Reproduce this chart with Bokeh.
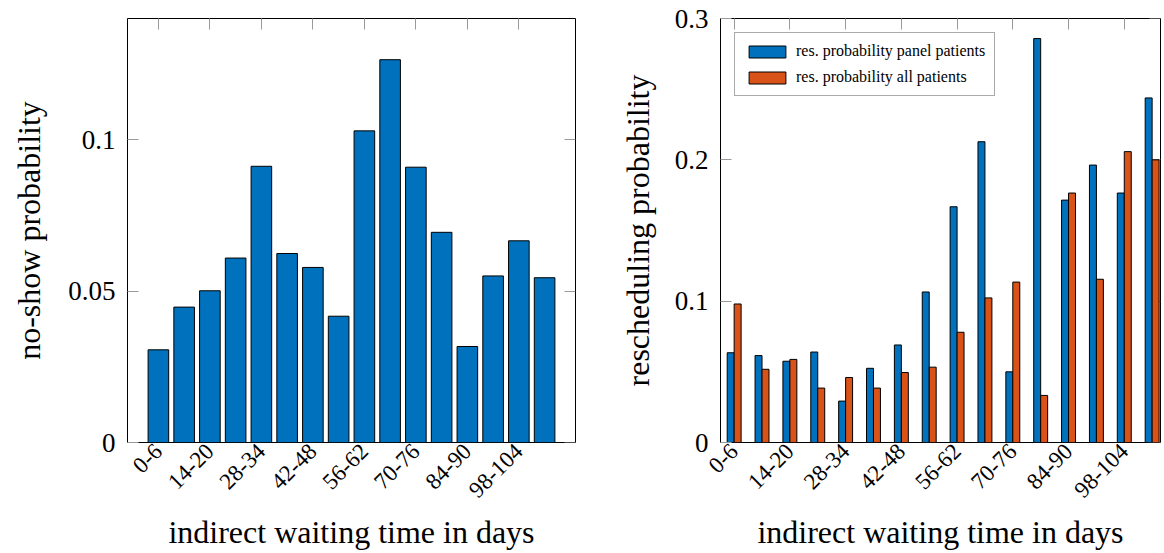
import math
from bokeh.plotting import figure
from bokeh.layouts import row
from bokeh.models import (Range1d, FixedTicker, LinearAxis, CustomJSTickFormatter,
                          ColumnDataSource, CustomLabelingPolicy)
from bokeh.transform import dodge
from bokeh.embed import file_html
from bokeh.resources import INLINE

# ---------------- data ----------------
categories = ["0-6", "7-13", "14-20", "21-27", "28-34", "35-41", "42-48", "49-55",
              "56-62", "63-69", "70-76", "77-83", "84-90", "91-97", "98-104", "105-111"]
tick_labels = ["0-6", "14-20", "28-34", "42-48", "56-62", "70-76", "84-90", "98-104"]
no_show = [0.0306, 0.0447, 0.0501, 0.0609, 0.0912, 0.0624, 0.0578, 0.0417,
           0.1029, 0.1264, 0.0909, 0.0694, 0.0317, 0.0550, 0.0666, 0.0544]
res_panel = [0.0635, 0.0615, 0.0575, 0.0640, 0.0293, 0.0525, 0.0690, 0.1065,
             0.1668, 0.2128, 0.0500, 0.2858, 0.1715, 0.1963, 0.1765, 0.2438]
res_all = [0.0980, 0.0518, 0.0588, 0.0385, 0.0460, 0.0385, 0.0495, 0.0533,
           0.0780, 0.1023, 0.1135, 0.0333, 0.1765, 0.1155, 0.2058, 0.2000]
left_yticks = [0, 0.05, 0.1]
right_yticks = [0, 0.1, 0.2, 0.3]
series_names = ["res. probability panel patients", "res. probability all patients"]

BLUE = "#0072BD"
ORANGE = "#D95319"
FONT = "Liberation Serif"
TICK_COLOR = "#9a9a9a"

xpos = list(range(len(categories)))
xt = [categories.index(t) for t in tick_labels]
fmt_js = "return tick.toString();"
hide_all_js = "const n = indices.size; for (let i = 0; i < n; i++) { indices.unset(i) } return indices;"


def style_common(p):
    p.xgrid.visible = False
    p.ygrid.visible = False
    p.outline_line_color = "black"
    p.outline_line_width = 1
    p.background_fill_color = "white"
    p.border_fill_color = "white"


def style_axis(ax, show_labels=True, tick_in=11):
    ax.axis_line_color = None
    ax.major_tick_in = tick_in
    ax.major_tick_out = 0
    ax.major_tick_line_color = TICK_COLOR
    ax.major_tick_line_width = 1
    ax.minor_tick_line_color = None
    ax.major_label_text_font = FONT
    ax.major_label_text_color = "black"
    ax.axis_label_text_font = FONT
    ax.axis_label_text_font_style = "normal"
    ax.axis_label_text_color = "black"
    ax.axis_label_text_font_size = "32px"
    if not show_labels:
        ax.major_label_text_font_size = "1px"
        ax.major_label_standoff = 0
        ax.major_label_policy = CustomLabelingPolicy(code=hide_all_js)


def build(p, yticks, xticks):
    style_common(p)
    xa = p.xaxis[0]
    xa.ticker = FixedTicker(ticks=xticks)
    xa.major_label_overrides = {k: v for k, v in zip(xticks, tick_labels)}
    style_axis(xa, tick_in=0)
    xa.major_label_orientation = math.pi / 4
    xa.major_label_text_font_size = "23px"
    xa.major_label_standoff = 5
    xa.axis_label = "indirect waiting time in days"
    xa.axis_label_standoff = 7

    ya = p.yaxis[0]
    ya.ticker = FixedTicker(ticks=yticks)
    ya.formatter = CustomJSTickFormatter(code=fmt_js)
    style_axis(ya)
    ya.major_label_text_font_size = "27px"
    ya.major_label_standoff = 12

    top = LinearAxis(ticker=FixedTicker(ticks=xticks))
    style_axis(top, show_labels=False)
    p.add_layout(top, "above")

    right = LinearAxis(ticker=FixedTicker(ticks=yticks))
    style_axis(right, show_labels=False)
    right.level = "underlay"
    p.add_layout(right, "right")


# ---------------- left chart ----------------
p1 = figure(width=600, height=553, x_range=Range1d(-1.2, 16.2), y_range=Range1d(0, 0.14),
            output_backend="svg", toolbar_location=None,
            min_border_left=127, min_border_right=25, min_border_top=18, min_border_bottom=111)
build(p1, left_yticks, xt)
p1.yaxis[0].axis_label = "no-show probability"
p1.yaxis[0].axis_label_standoff = 18
src1 = ColumnDataSource(dict(x=xpos, v=no_show))
p1.vbar(x="x", top="v", width=0.8, source=src1, fill_color=BLUE,
        line_color="black", line_width=1)

# ---------------- right chart ----------------
p2 = figure(width=564, height=553, x_range=Range1d(-0.49, 15.3), y_range=Range1d(0, 0.3),
            output_backend="svg", toolbar_location=None,
            min_border_left=120, min_border_right=1, min_border_top=18, min_border_bottom=111)
build(p2, right_yticks, xt)
p2.yaxis[0].axis_label = "rescheduling probability"
p2.yaxis[0].axis_label_standoff = 16
src2 = ColumnDataSource(dict(x=xpos, panel=res_panel, all=res_all))
p2.vbar(x=dodge("x", -0.125, range=p2.x_range), top="panel", width=0.25, source=src2,
        fill_color=BLUE, line_color="black", line_width=1, legend_label=series_names[0])
p2.vbar(x=dodge("x", 0.125, range=p2.x_range), top="all", width=0.25, source=src2,
        fill_color=ORANGE, line_color="black", line_width=1, legend_label=series_names[1])

lg = p2.legend[0]
lg.location = "top_left"
lg.margin = 14
lg.padding = 9
lg.spacing = 8
lg.glyph_width = 46
lg.glyph_height = 15
lg.label_standoff = 6
lg.label_text_font = FONT
lg.label_text_font_size = "16px"
lg.label_text_color = "black"
lg.border_line_color = "#555555"
lg.border_line_width = 1
lg.background_fill_alpha = 1

layout = row(p1, p2)
open("out.html", "w").write(file_html(layout, INLINE))
